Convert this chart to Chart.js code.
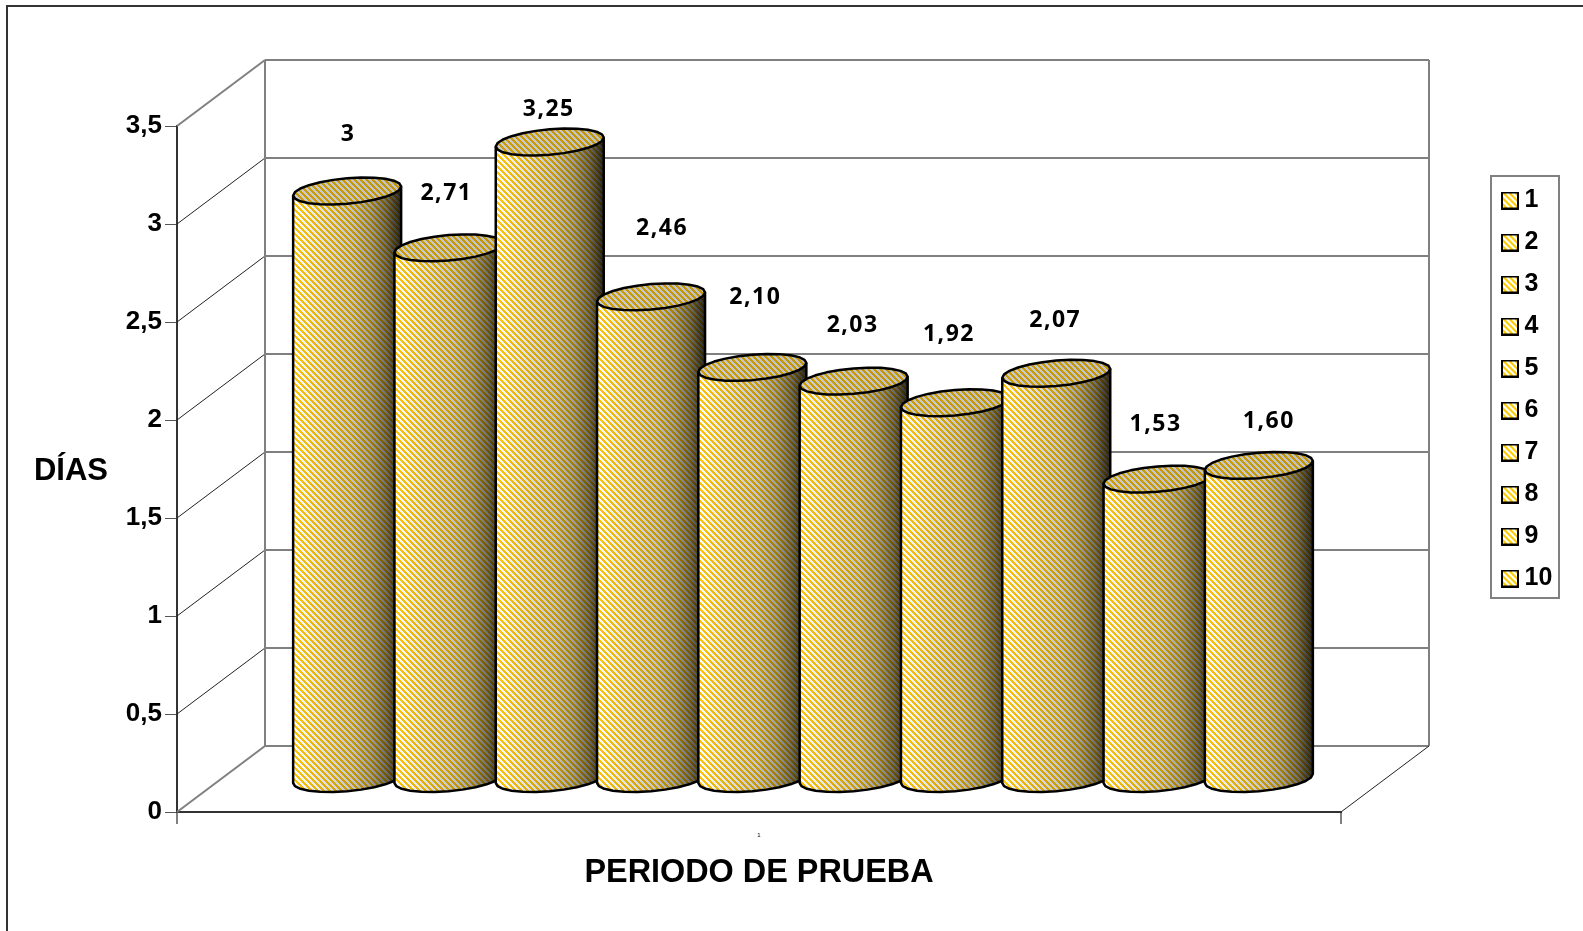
<!DOCTYPE html>
<html lang="es">
<head>
<meta charset="utf-8">
<title>Periodo de prueba</title>
<style>
  html, body { margin: 0; padding: 0; background: #fff; }
  canvas { display: block; }
</style>
<script src="https://cdn.jsdelivr.net/npm/chart.js@4/dist/chart.umd.js"></script>
</head>
<body>
<canvas id="chart" width="1583" height="931"></canvas>
<script>
// Chart data
const categories = ['1'];
const seriesNames = ['1', '2', '3', '4', '5', '6', '7', '8', '9', '10'];
const seriesValues = [3, 2.71, 3.25, 2.46, 2.10, 2.03, 1.92, 2.07, 1.53, 1.60];
const valueLabels = ['3', '2,71', '3,25', '2,46', '2,10', '2,03', '1,92', '2,07', '1,53', '1,60'];

// Hand placement of each value label relative to its cylinder
const labelShiftX = [1, -2, -1, 11, 3, -1, -6, -1, -2, 10];
const labelShiftY = [-57, -54, -33, -68, -70, -56, -68, -53, -55, -44];

// Oblique projection of the depth axis
const DEPTH_X = 88;
const DEPTH_Y = -66;

// Skew and height of a cylinder's rim
const RIM_SKEW = 18;
const RIM_RISE = 13.5;

// Diagonal hatch tile, `colour` on transparent or on a solid ground
function hatch(colour, ground, period, band) {
  const tile = document.createElement('canvas');
  tile.width = tile.height = period;
  const c = tile.getContext('2d');
  if (ground) { c.fillStyle = ground; c.fillRect(0, 0, period, period); }
  c.fillStyle = colour;
  for (let y = 0; y < period; y++) {
    for (let x = 0; x < period; x++) {
      if (((x - y) % period + period) % period < band) c.fillRect(x, y, 1, 1);
    }
  }
  return tile;
}

const pageCtx = document.getElementById('chart').getContext('2d');
const stripeFill = pageCtx.createPattern(hatch('#ffc60a', null, 6, 3), 'repeat');
const swatchFill = pageCtx.createPattern(hatch('#ffcc00', '#ffffff', 6, 3), 'repeat');

// Legend marker: hatched square with a black outline
function buildSwatch() {
  const s = document.createElement('canvas');
  s.width = s.height = 18;
  const c = s.getContext('2d');
  c.fillStyle = swatchFill;
  c.fillRect(1, 1, 16, 16);
  c.strokeStyle = '#000';
  c.lineWidth = 2;
  c.strokeRect(1, 1, 16, 16);
  return s;
}

// Point on the rim of a cylinder lying in the oblique plane
function rim(cx, cy, a, t) {
  return [cx + a * Math.cos(t) + RIM_SKEW * Math.sin(t), cy - RIM_RISE * Math.sin(t)];
}

function tracePoints(ctx, pts) {
  ctx.beginPath();
  pts.forEach((p, i) => (i ? ctx.lineTo(p[0], p[1]) : ctx.moveTo(p[0], p[1])));
}

function fillShaded(ctx, pts, ground) {
  ctx.save();
  tracePoints(ctx, pts);
  ctx.closePath();
  ctx.fillStyle = ground;
  ctx.fill();
  ctx.clip();
  ctx.globalCompositeOperation = 'multiply';
  ctx.fillStyle = stripeFill;
  ctx.fillRect(0, 0, 1583, 931);
  ctx.restore();
}

function drawCylinder(ctx, bar) {
  const half = bar.width / 2;
  const a = Math.sqrt(half * half - RIM_SKEW * RIM_SKEW);
  const cx = bar.x + DEPTH_X / 2;
  const topY = bar.y + DEPTH_Y / 2;
  const baseY = bar.base + DEPTH_Y / 2;
  const t0 = Math.atan2(RIM_SKEW, a);
  const facets = 24;

  const frontArc = (cy) => {
    const pts = [];
    for (let i = 0; i <= facets / 2; i++) pts.push(rim(cx, cy, a, t0 + Math.PI + (i / (facets / 2)) * Math.PI));
    return pts;
  };
  const full = [];
  for (let i = 0; i < facets; i++) full.push(rim(cx, topY, a, t0 + (i / facets) * 2 * Math.PI));

  const topFront = frontArc(topY);
  const baseFront = frontArc(baseY);
  const outline = [topFront[0], ...baseFront, topFront[topFront.length - 1]];

  const side = ctx.createLinearGradient(cx - half, 0, cx + half, 0);
  side.addColorStop(0, '#ffffff');
  side.addColorStop(0.3, '#e0e0e0');
  side.addColorStop(0.55, '#c4c4c4');
  side.addColorStop(0.72, '#a0a0a0');
  side.addColorStop(0.87, '#6c6c6c');
  side.addColorStop(1, '#2a2a2a');
  fillShaded(ctx, outline, side);

  ctx.strokeStyle = '#000';
  ctx.lineWidth = 2.5;
  ctx.lineJoin = 'round';
  tracePoints(ctx, outline);
  ctx.stroke();

  const cap = ctx.createLinearGradient(cx - half, 0, cx + half, 0);
  cap.addColorStop(0, '#cccccc');
  cap.addColorStop(1, '#c0c0c0');
  fillShaded(ctx, full, cap);
  tracePoints(ctx, full);
  ctx.closePath();
  ctx.stroke();
}

function strokeLine(ctx, x1, y1, x2, y2, colour, width) {
  ctx.beginPath();
  ctx.moveTo(x1, y1);
  ctx.lineTo(x2, y2);
  ctx.strokeStyle = colour;
  ctx.lineWidth = width;
  ctx.stroke();
}

// Outer frame, walls of the 3D box, legend box and axis caption
const scenery = {
  id: 'scenery',
  afterLayout(chart) {
    chart.legend.left = 1491;
    chart.legend.right = 1559;
    chart.legend.top = 171;
  },
  beforeDraw(chart) {
    const ctx = chart.ctx;
    ctx.save();
    ctx.fillStyle = '#fff';
    ctx.fillRect(0, 0, chart.width, chart.height);
    strokeLine(ctx, 7, 6, 7, 931, '#333', 2);
    strokeLine(ctx, 6, 6, 1583, 6, '#333', 2);

    ctx.strokeStyle = '#808080';
    ctx.lineWidth = 2;
    ctx.strokeRect(1491, 176, 68, 422);
    ctx.fillStyle = '#000';
    ctx.font = 'bold 31px "Liberation Sans"';
    ctx.textAlign = 'center';
    ctx.textBaseline = 'middle';
    ctx.fillText('DÍAS', 71, 471);
    ctx.restore();
  },
  beforeDatasetsDraw(chart) {
    const ctx = chart.ctx;
    const { left, right, top, bottom } = chart.chartArea;
    const y = chart.scales.y;
    ctx.save();
    y.ticks.forEach((tick) => {
      const py = y.getPixelForValue(tick.value);
      const outer = py === top || py === bottom;
      strokeLine(ctx, left, py, left + DEPTH_X, py + DEPTH_Y, outer ? '#808080' : '#222', outer ? 2 : 1);
      strokeLine(ctx, left + DEPTH_X, py + DEPTH_Y, right + DEPTH_X, py + DEPTH_Y, '#808080', 2);
    });
    strokeLine(ctx, left + DEPTH_X, top + DEPTH_Y, left + DEPTH_X, bottom + DEPTH_Y, '#808080', 2);
    strokeLine(ctx, right + DEPTH_X, top + DEPTH_Y, right + DEPTH_X, bottom + DEPTH_Y, '#808080', 2);
    strokeLine(ctx, right, bottom, right + DEPTH_X, bottom + DEPTH_Y, '#222', 1);

    // Later series sit in front of earlier ones
    chart.data.datasets.forEach((_, i) => drawCylinder(ctx, chart.getDatasetMeta(i).data[0]));

    ctx.fillStyle = '#000';
    ctx.font = 'bold 23px "Open Sans"';
    ctx.letterSpacing = '1.5px';
    ctx.textAlign = 'center';
    ctx.textBaseline = 'middle';
    chart.data.datasets.forEach((_, i) => {
      const bar = chart.getDatasetMeta(i).data[0];
      ctx.fillText(
        valueLabels[i],
        bar.x + DEPTH_X / 2 + labelShiftX[i],
        bar.y + DEPTH_Y / 2 + labelShiftY[i]
      );
    });
    ctx.restore();
    return false;
  }
};

new Chart(pageCtx, {
  type: 'bar',
  data: {
    labels: categories,
    datasets: seriesNames.map((name, i) => ({
      label: name,
      data: [seriesValues[i]],
      backgroundColor: swatchFill,
      borderColor: '#000',
      borderWidth: 2,
      categoryPercentage: 0.8703,
      barPercentage: 1.066
    }))
  },
  plugins: [scenery],
  options: {
    responsive: false,
    animation: false,
    layout: { padding: { left: 0, top: 126, right: 242, bottom: 0 } },
    plugins: {
      tooltip: { enabled: false },
      legend: {
        position: 'chartArea',
        align: 'start',
        labels: {
          usePointStyle: true,
          pointStyle: buildSwatch(),
          pointStyleWidth: 4,
          padding: 17,
          color: '#000',
          font: { family: '"Liberation Sans"', weight: 'bold', size: 25 }
        }
      }
    },
    scales: {
      x: {
        afterFit(scale) { scale.height = 119; },
        grid: { drawOnChartArea: false, tickLength: 12, color: '#808080', lineWidth: 2 },
        border: { color: '#333', width: 2 },
        ticks: { padding: 8, color: '#000', font: { family: '"Liberation Sans"', size: 6 } },
        title: {
          display: true,
          text: 'PERIODO DE PRUEBA',
          color: '#000',
          padding: { top: 0, bottom: 38 },
          font: { family: '"Liberation Sans"', weight: 'bold', size: 32.4 }
        }
      },
      y: {
        min: 0,
        max: 3.5,
        afterFit(scale) { scale.width = 177; },
        grid: { drawOnChartArea: false, tickLength: 12, color: '#555', lineWidth: 1 },
        border: { color: '#333', width: 2 },
        ticks: {
          stepSize: 0.5,
          padding: 3,
          color: '#000',
          font: { family: '"Liberation Sans"', weight: 'bold', size: 26 },
          callback: (value) => String(value).replace('.', ',')
        }
      }
    }
  }
});
</script>
</body>
</html>
